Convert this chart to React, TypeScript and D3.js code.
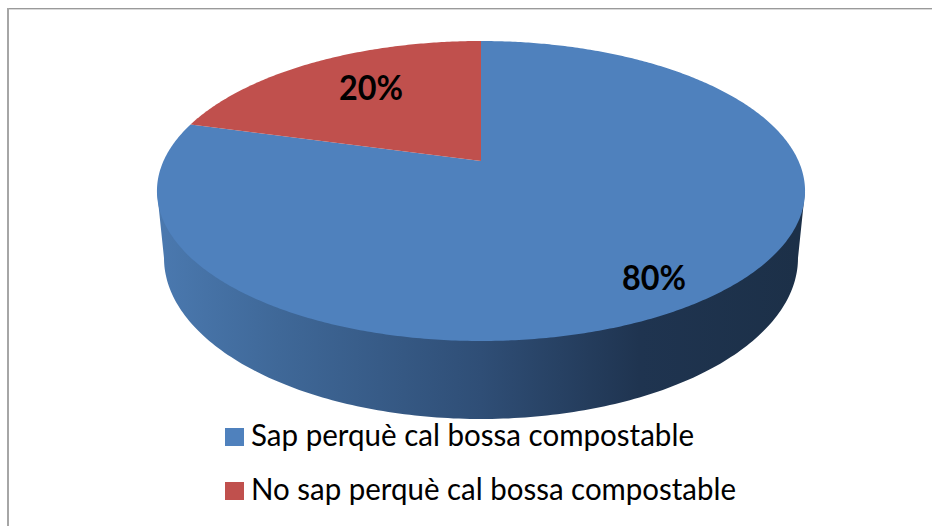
import React from 'react';
import * as d3 from 'd3';

const categories = ['Sap perquè cal bossa compostable', 'No sap perquè cal bossa compostable'];
const values = [80, 20];
const percentLabels = ['80%', '20%'];
const colors = ['#4f81bd', '#c0504d'];
const sideStops = [
  { at: 0, color: '#4a78ae' },
  { at: 0.18, color: '#3f6898' },
  { at: 0.5, color: '#2f4e76' },
  { at: 0.75, color: '#1f3450' },
  { at: 1, color: '#1c3048' },
];

const W = 932, H = 526;
const cx = 481, apexY = 161, persp = 0.2, skewA = -111.8, widthD = 317.5;
const seamTilt = (2.5 * Math.PI) / 180;

// Perspective projection of a point on the unit pie disc to the screen
const project = (angle: number): [number, number] => {
  const u = Math.sin(angle), v = Math.cos(angle);
  const k = persp * v + 1;
  return [cx + (widthD * u) / k, (skewA * v + apexY) / k];
};

const line = d3.line();

const arcPts = (a0: number, a1: number) => {
  const n = Math.max(2, Math.ceil(Math.abs(a1 - a0) / 0.01));
  return d3.range(n + 1).map(i => project(a0 + ((a1 - a0) * i) / n));
};

const apex: [number, number] = [cx, apexY];
const slices = d3.pie<number>().sort(null)(values);
// The interior seam sits slightly off the pure projection in the original's 3D view
const warp = (a: number) => (a > 1e-6 && a < 2 * Math.PI - 1e-6 ? a - seamTilt : a);
const slicePaths = slices.map(s => line([apex, ...arcPts(warp(s.startAngle), warp(s.endAngle))]) + 'Z');

// Lower ellipse (base of the pie)
const base = { cx: 481, cy: 258, rx: 317, ry: 161 };
const basePts = d3.range(0, 361).map(i => {
  const t = (i * Math.PI) / 180;
  return [base.cx + base.rx * Math.cos(t), base.cy + base.ry * Math.sin(t)] as [number, number];
});
const sideWall = line([
  [805, 191],
  ...basePts.slice(0, 181),
  [157, 191],
]) + 'Z';

const labelPos: [number, number][] = [[654, 290], [371, 100]];
const legendY = [437, 491];
const legendBaseline = [446, 500];
const legendWidth = [443, 485];

export default function App() {
  return (
    <svg width={W} height={H} style={{ position: 'absolute', left: 0, top: 0, display: 'block' }}>
      <rect width={W} height={H} fill="#fff" />
      <defs>
        <linearGradient id="side" gradientUnits="userSpaceOnUse" x1={164} x2={798} y1={0} y2={0}>
          {sideStops.map(s => <stop key={s.at} offset={s.at} stopColor={s.color} />)}
        </linearGradient>
      </defs>
      <path d={`M${W} 9.5H9`} fill="none" stroke="#d9d9d9" strokeWidth={1} />
      <path d={`M${W} 8.5H8`} fill="none" stroke="#9a9a9a" strokeWidth={1} />
      <path d={`M8 8V${H}`} fill="none" stroke="#a6a6a6" strokeWidth={2} />
      <path d={sideWall} fill="url(#side)" />
      {slicePaths.map((d, i) => <path key={i} d={d} fill={colors[i]} />)}
      {percentLabels.map((t, i) => (
        <text key={t} x={labelPos[i][0]} y={labelPos[i][1]} textAnchor="middle"
          fontFamily="Lato" fontWeight={700} fontSize={34} fill="#000"
          textLength={64} lengthAdjust="spacingAndGlyphs">{t}</text>
      ))}
      {categories.map((c, i) => (
        <g key={c}>
          <rect x={225} y={legendY[i] - 9} width={19} height={18} fill={colors[i]} />
          <text x={251} y={legendBaseline[i]} fontFamily="Lato" fontSize={31} fill="#000"
            textLength={legendWidth[i]} lengthAdjust="spacingAndGlyphs">{c}</text>
        </g>
      ))}
    </svg>
  );
}
